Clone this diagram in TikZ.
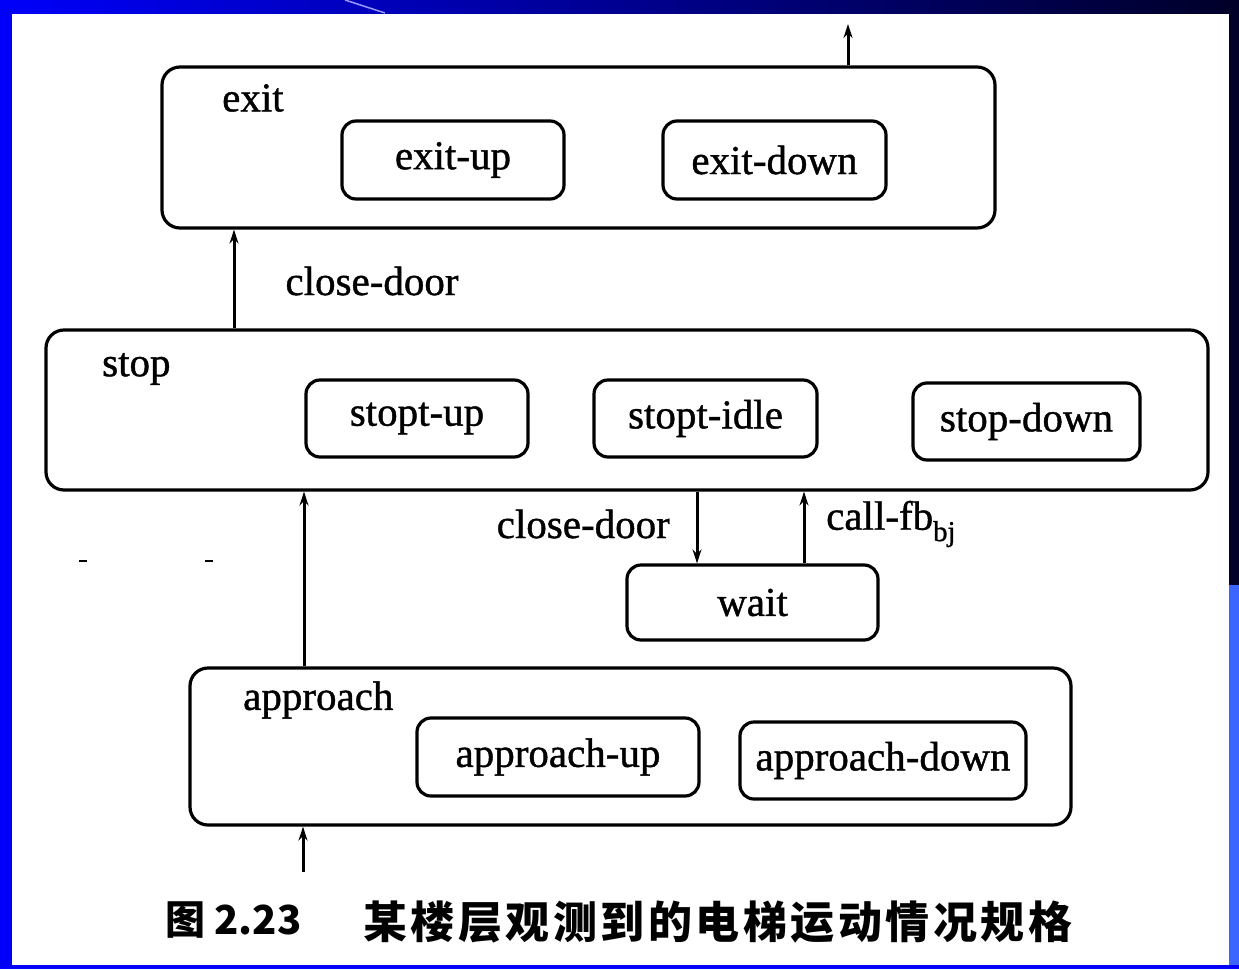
\documentclass[tikz,border=0pt]{standalone}
\usepackage{fontspec}
\setmainfont{Liberation Serif}[FakeBold=1.0]
\newfontfamily\cjk{Noto Sans CJK SC}
\usetikzlibrary{arrows.meta,shadings}
\definecolor{frameblue}{RGB}{0,0,250}
\definecolor{framedark}{RGB}{0,0,40}
\definecolor{framelight}{RGB}{60,100,255}
\tikzset{
  bigbox/.style={draw, line width=3.2pt, rounded corners=18pt, inner sep=0pt},
  smallbox/.style={draw, line width=3.2pt, rounded corners=14pt, inner sep=0pt, font=\fontsize{41}{45}\selectfont},
  lbl/.style={font=\fontsize{41}{45}\selectfont, inner sep=0pt},
  arr/.style={line width=3pt, -{Stealth[length=14pt,width=9pt]}},
}
\begin{document}
\begin{tikzpicture}[x=1pt,y=-1pt]
\useasboundingbox (0,0) rectangle (1239,969);
% frame
\fill[white] (0,0) rectangle (1239,969);
\fill[frameblue] (0,0) rectangle (12,969);
\shade[left color=frameblue, right color=framedark] (0,0) rectangle (1239,13);
\draw[blue!40!white, line width=1.5pt] (345,0) -- (385,13);
\fill[framedark] (1229,0) rectangle (1239,585);
\fill[framelight] (1229,585) rectangle (1239,969);
\fill[frameblue] (0,965) rectangle (1239,969);

% exit
\node[bigbox, minimum width=833pt, minimum height=161pt] (exit) at (578.5,147.5) {};
\node[lbl, anchor=west] (exitlbl) at (222,98) {exit};
\node[smallbox, minimum width=222pt, minimum height=78pt] (exitup) at (453,160) {exit-up};
\node[smallbox, minimum width=223pt, minimum height=78pt] (exitdown) at (774.5,160) {exit-down};

% stop
\node[bigbox, minimum width=1162pt, minimum height=160pt] (stop) at (627,410) {};
\node[lbl, anchor=west] (stoplbl) at (102,369) {stop};
\node[smallbox, minimum width=222pt, minimum height=77pt] (stoptup) at (417,418.5) {stopt-up};
\node[smallbox, minimum width=223pt, minimum height=77pt] (stoptidle) at (705.5,418.5) {stopt-idle};
\node[smallbox, minimum width=227pt, minimum height=77pt] (stopdown) at (1026.5,421.5) {stop-down};

% wait
\node[smallbox, minimum width=251pt, minimum height=75pt] (wait) at (752.5,602.5) {wait};

% approach
\node[bigbox, minimum width=881pt, minimum height=157pt] (approach) at (630.5,746.5) {};
\node[lbl, anchor=west] (applbl) at (243,700) {approach};
\node[smallbox, minimum width=282pt, minimum height=78pt] (appup) at (558,757) {approach-up};
\node[smallbox, minimum width=286pt, minimum height=77pt] (appdown) at (883,760.5) {approach-down};

% connectors
\coordinate (xa) at (234,0);
\coordinate (xb) at (304,0);
\coordinate (xc) at (697,0);
\coordinate (xd) at (804,0);
\coordinate (topend) at (848,24);
\coordinate (botstart) at (303,872);
\draw[arr] (exit.north -| topend) -- (topend);
\draw[arr] (stop.north -| xa) -- (exit.south -| xa);
\node[lbl] (cd1) at (372,281) {close-door};
\draw[arr] (approach.north -| xb) -- (stop.south -| xb);
\draw[arr] (stop.south -| xc) -- (wait.north -| xc);
\node[lbl, anchor=east] (cd2) at (670,524) {close-door};
\draw[arr] (wait.north -| xd) -- (stop.south -| xd);
\node[lbl, anchor=west] (call) at (826,524) {call-fb\textsubscript{bj}};
\draw[arr] (botstart) -- (approach.south -| botstart);

% stray marks
\draw[line width=2pt] (79,561) -- (87,561);
\draw[line width=2pt] (205,561) -- (213,561);

% caption
\node[anchor=west, inner sep=0pt, font=\cjk\bfseries\fontsize{40}{44}\selectfont] (cap1) at (165,920) {图 2.23};
\node[anchor=west, inner sep=0pt, font=\cjk\bfseries\fontsize{44}{48}\selectfont\addfontfeature{LetterSpace=8}] (cap2) at (363,922) {某楼层观测到的电梯运动情况规格};
\end{tikzpicture}
\end{document}
